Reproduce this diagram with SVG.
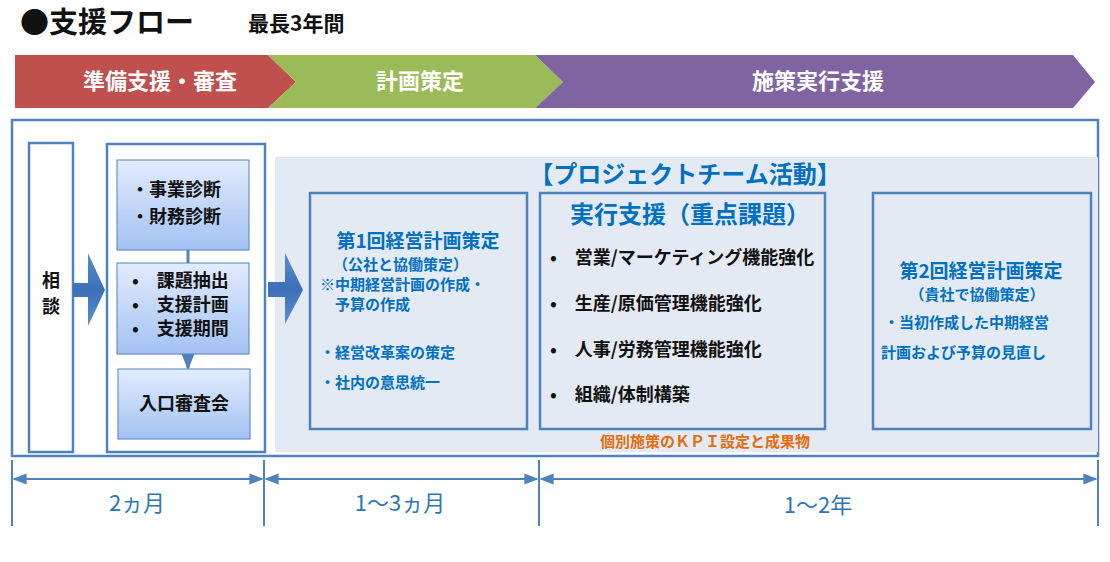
<svg xmlns="http://www.w3.org/2000/svg" width="1110" height="562" viewBox="0 0 1110 562">
<style>
text{font-family:"Noto Sans CJK JP","Liberation Sans",sans-serif;font-weight:bold}
.b{fill:none;stroke:#4f81bd;stroke-width:2.5}
.blue{fill:#0070c0}
.k{fill:#111;font-size:18px}
.w{fill:#fff;font-size:22px;text-anchor:middle}
.d{stroke:#4f81bd;stroke-width:2;fill:none}
.lbl{fill:#2e75b6;font-size:22px;font-weight:normal;text-anchor:middle}
</style>
<defs>
<linearGradient id="g" x1="0" y1="0" x2="0" y2="1"><stop offset="0" stop-color="#e2ecfd"/><stop offset="1" stop-color="#a3c2f3"/></linearGradient>
<linearGradient id="ag" x1="0" y1="0" x2="0" y2="1"><stop offset="0" stop-color="#5b8fd1"/><stop offset="0.5" stop-color="#3a70b8"/><stop offset="1" stop-color="#5b8fd1"/></linearGradient>
<marker id="ah" viewBox="0 0 10 10" refX="9" refY="5" markerWidth="7" markerHeight="7" orient="auto-start-reverse"><path d="M0,1 L10,5 L0,9 z" fill="#4f81bd"/></marker>
</defs>
<rect width="1110" height="562" fill="#fff"/>
<text x="20" y="33" font-size="29" fill="#111">●支援フロー</text>
<text x="248" y="31" font-size="21" fill="#111">最長3年間</text>
<g id="phases">
<path d="M15,55 H268 L296,82 L268,108 H15 Z" fill="#c0504d"/>
<path d="M268,55 H535 L563,82 L535,108 H268 L296,82 Z" fill="#9bbb59"/>
<path d="M535,55 H1073 L1095,82 L1073,108 H535 L563,82 Z" fill="#8064a2"/>
<text class="w" x="160" y="89">準備支援・審査</text>
<text class="w" x="420" y="89">計画策定</text>
<text class="w" x="818" y="89">施策実行支援</text>
</g>
<rect class="b" x="12" y="120" width="1086" height="336"/>
<rect x="275" y="157" width="823" height="295" fill="#e4eaf4"/>
<g id="n-soudan"><rect class="b" x="29" y="143" width="44" height="309" fill="#fff"/>
<text class="k" x="51" y="287" text-anchor="middle" font-size="16">相</text><text class="k" x="51" y="313" text-anchor="middle" font-size="16">談</text></g>
<g id="n-prep"><rect class="b" x="107" y="144" width="158" height="308"/></g>
<g id="connectors">
<path d="M73,283 H88 V253 L105,290 L88,326 V297 H73 Z" fill="url(#ag)"/>
<path d="M258,282 H275 V253 L293,290 L275,324 V297 H258 Z" fill="url(#ag)" transform="translate(10,0)"/>
<line x1="188" y1="250" x2="188" y2="263" stroke="#4f81bd" stroke-width="3"/>
<line x1="188" y1="354" x2="188" y2="368" stroke="#4f81bd" stroke-width="3" marker-end="url(#ah)"/>
<line class="d" x1="14" y1="479" x2="262" y2="479" marker-start="url(#ah)" marker-end="url(#ah)"/>
<line class="d" x1="266" y1="479" x2="537" y2="479" marker-start="url(#ah)" marker-end="url(#ah)"/>
<line class="d" x1="541" y1="479" x2="1096" y2="479" marker-start="url(#ah)" marker-end="url(#ah)"/>
<line class="d" x1="12" y1="460" x2="12" y2="526"/>
<line class="d" x1="264" y1="460" x2="264" y2="526"/>
<line class="d" x1="539" y1="460" x2="539" y2="526"/>
<line class="d" x1="1098" y1="460" x2="1098" y2="526"/>
</g>
<g id="n-diag"><rect x="117" y="160" width="132" height="90" fill="url(#g)" stroke="#4f81bd" stroke-width="1"/>
<text class="k" x="131" y="196">・事業診断</text><text class="k" x="131" y="223">・財務診断</text></g>
<g id="n-task"><rect x="117" y="263" width="132" height="91" fill="url(#g)" stroke="#4f81bd" stroke-width="1"/>
<text class="k" x="132" y="287" font-size="16">•　課題抽出</text><text class="k" x="132" y="311" font-size="16">•　支援計画</text><text class="k" x="132" y="335" font-size="16">•　支援期間</text></g>
<g id="n-review"><rect x="118" y="369" width="132" height="70" fill="url(#g)" stroke="#4f81bd" stroke-width="1"/>
<text class="k" x="184" y="410" text-anchor="middle">入口審査会</text></g>
<text class="blue" x="685" y="183" font-size="24" text-anchor="middle">【プロジェクトチーム活動】</text>
<g id="n-plan1"><rect class="b" x="310" y="193" width="217" height="236" fill="#fff"/>
<text class="blue" x="418" y="248" font-size="19" text-anchor="middle">第1回経営計画策定</text>
<text class="blue" x="333" y="270" font-size="15">（公社と協働策定）</text>
<text class="blue" x="320" y="290" font-size="15">※中期経営計画の作成・</text>
<text class="blue" x="335" y="310" font-size="15">予算の作成</text>
<text class="blue" x="320" y="358" font-size="15">・経営改革案の策定</text>
<text class="blue" x="320" y="388" font-size="15">・社内の意思統一</text></g>
<g id="n-exec"><rect class="b" x="540" y="193" width="285" height="236" fill="#fff"/>
<text class="blue" x="690" y="223" font-size="24" text-anchor="middle">実行支援（重点課題）</text>
<text class="k" x="550" y="264" font-size="17">•　営業/マーケティング機能強化</text>
<text class="k" x="550" y="310" font-size="17">•　生産/原価管理機能強化</text>
<text class="k" x="550" y="356" font-size="17">•　人事/労務管理機能強化</text>
<text class="k" x="550" y="401" font-size="17">•　組織/体制構築</text></g>
<g id="n-plan2"><rect class="b" x="873" y="193" width="218" height="236" fill="#fff"/>
<text class="blue" x="981" y="278" font-size="19" text-anchor="middle">第2回経営計画策定</text>
<text class="blue" x="977" y="300" font-size="15" text-anchor="middle">（貴社で協働策定）</text>
<text class="blue" x="884" y="328" font-size="15">・当初作成した中期経営</text>
<text class="blue" x="881" y="358" font-size="15">計画および予算の見直し</text></g>
<text x="705" y="447" font-size="15" fill="#e46c0a" text-anchor="middle">個別施策のＫＰＩ設定と成果物</text>
<text class="lbl" x="137" y="511">2ヵ月</text>
<text class="lbl" x="400" y="511">1～3ヵ月</text>
<text class="lbl" x="818" y="513">1～2年</text>
</svg>
